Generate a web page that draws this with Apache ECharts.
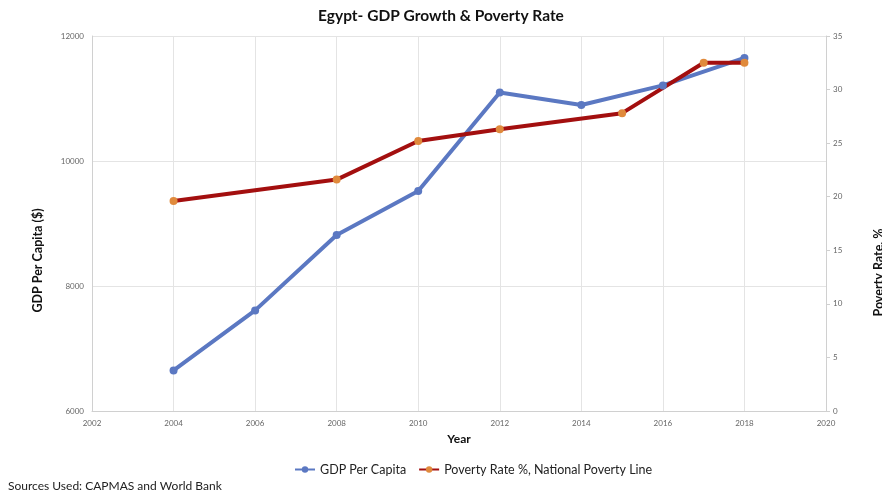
<!DOCTYPE html>
<html><head><meta charset="utf-8">
<script src="https://cdn.jsdelivr.net/npm/echarts@6/dist/echarts.min.js"></script>
<style>html,body{margin:0;padding:0;background:#fff}#c{width:882px;height:498px}</style>
</head><body><div id="c"></div>
<script>
const gdpYears = [2004, 2006, 2008, 2010, 2012, 2014, 2016, 2018];
const gdpValues = [6650, 7610, 8815, 9520, 11095, 10895, 11210, 11650];
const povYears = [2004, 2008, 2010, 2012, 2015, 2017, 2018];
const povValues = [19.6, 21.6, 25.2, 26.3, 27.8, 32.5, 32.5];
const seriesNames = ['GDP Per Capita', 'Poverty Rate %, National Poverty Line'];

const font = 'Lato, "Open Sans", sans-serif';
const plain = v => String(v);
const chart = echarts.init(document.getElementById('c'));
chart.setOption({
  animation: false,
  title: {
    text: 'Egypt- GDP Growth & Poverty Rate',
    left: 'center', top: 3,
    textStyle: {fontFamily: font, fontSize: 15.5, fontWeight: 'bold', color: '#111'}
  },
  legend: {
    left: 289, top: 458, itemWidth: 20, itemHeight: 8, itemGap: 12,
    textStyle: {fontFamily: font, fontSize: 12.5, color: '#222'},
    data: seriesNames
  },
  graphic: [{
    type: 'text', left: 8, top: 480,
    style: {text: 'Sources Used: CAPMAS and World Bank', fontFamily: font, fontSize: 12, fill: '#222'}
  }],
  grid: {left: 92, right: 56, top: 36, bottom: 87, outerBoundsMode: 'none', containLabel: false},
  xAxis: {
    type: 'value', min: 2002, max: 2020, interval: 2,
    name: 'Year', nameLocation: 'middle', nameGap: 22,
    nameTextStyle: {fontFamily: font, fontSize: 12, fontWeight: 'bold', color: '#111'},
    axisLine: {lineStyle: {color: '#d0d0d0'}},
    axisTick: {show: false},
    axisLabel: {fontFamily: font, fontSize: 8, color: '#666', margin: 8, formatter: plain},
    splitLine: {show: true, lineStyle: {color: '#e4e4e4'}}
  },
  yAxis: [{
    type: 'value', min: 6000, max: 12000, interval: 2000, position: 'left',
    name: 'GDP Per Capita ($)', nameLocation: 'middle', nameGap: 48, nameRotate: 90,
    nameTextStyle: {fontFamily: font, fontSize: 12.5, fontWeight: 'bold', color: '#111', padding: [0, 74, 0, 0]},
    axisLine: {show: true, lineStyle: {color: '#d0d0d0'}},
    axisTick: {show: false},
    axisLabel: {fontFamily: font, fontSize: 8, color: '#666', margin: 8, formatter: plain},
    splitLine: {show: true, lineStyle: {color: '#e4e4e4'}}
  }, {
    type: 'value', min: 0, max: 35, interval: 5, position: 'right',
    name: 'Poverty Rate, %', nameLocation: 'middle', nameGap: 46, nameRotate: 90,
    nameTextStyle: {fontFamily: font, fontSize: 12.5, fontWeight: 'bold', color: '#111', padding: [0, 98, 0, 0]},
    axisLine: {show: true, lineStyle: {color: '#d0d0d0'}},
    axisTick: {show: true, length: 4, lineStyle: {color: '#d0d0d0'}},
    axisLabel: {fontFamily: font, fontSize: 8, color: '#666', margin: 7, formatter: plain},
    splitLine: {show: false}
  }],
  series: [{
    name: seriesNames[0], type: 'line', yAxisIndex: 0,
    data: gdpYears.map((y, i) => [y, gdpValues[i]]),
    symbol: 'circle', symbolSize: 8,
    lineStyle: {color: '#5b78c2', width: 4},
    itemStyle: {color: '#5b78c2'}
  }, {
    name: seriesNames[1], type: 'line', yAxisIndex: 1,
    data: povYears.map((y, i) => [y, povValues[i]]),
    symbol: 'circle', symbolSize: 8,
    lineStyle: {color: '#a30f0f', width: 4},
    itemStyle: {color: '#e08a3c'}
  }]
});
</script></body></html>
